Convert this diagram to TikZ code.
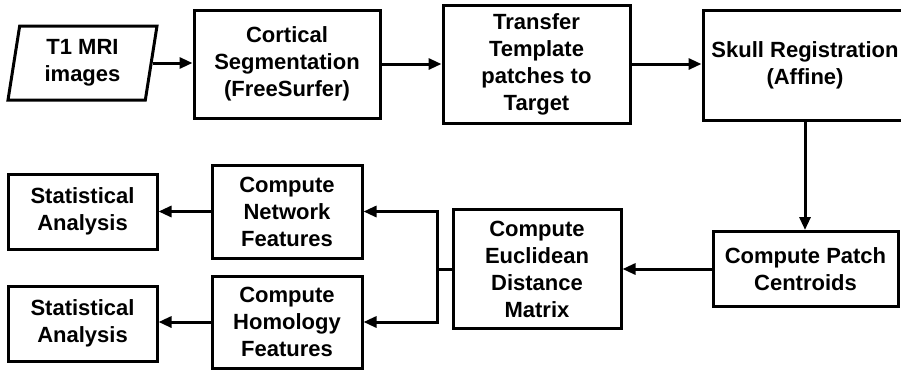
\documentclass[tikz,border=0pt]{standalone}
\usepackage{fontspec}
\setmainfont{Liberation Sans}
\usetikzlibrary{arrows.meta,shapes.geometric}
\begin{document}
\begin{tikzpicture}[x=1pt,y=-1pt,
  box/.style={draw,line width=3pt,inner sep=0pt,align=center,
    font=\fontsize{22}{27}\selectfont\bfseries},
  link/.style={line width=3pt,-{Triangle[length=13pt,width=11pt]}},
  plain/.style={line width=3pt}]
\useasboundingbox (0,0) rectangle (901,370);
% top row
\node[box,shape=trapezium,trapezium left angle=76,trapezium right angle=104,
  trapezium stretches body,minimum width=149pt,minimum height=74pt]
  (mri) at (82.5,63) {T1 MRI\\images};
\node[box,minimum width=186pt,minimum height=108pt] (cort) at (287,64)
  {Cortical\\Segmentation\\(FreeSurfer)};
\node[box,minimum width=187pt,minimum height=118pt] (trans) at (536.5,64)
  {Transfer\\Template\\patches to\\Target};
\node[box,minimum width=204pt,minimum height=110pt] (skull) at (805,65)
  {Skull Registration\\(Affine)};
% bottom row
\node[box,minimum width=185pt,minimum height=75pt] (cent) at (805.5,269)
  {Compute Patch\\Centroids};
\node[box,minimum width=168pt,minimum height=119pt] (eucl) at (537,269)
  {Compute\\Euclidean\\Distance\\Matrix};
\node[box,minimum width=150pt,minimum height=93pt] (net) at (287,211.5)
  {Compute\\Network\\Features};
\node[box,minimum width=150pt,minimum height=92pt] (hom) at (287,322)
  {Compute\\Homology\\Features};
\node[box,minimum width=149pt,minimum height=75pt] (stat1) at (82.5,211.5)
  {Statistical\\Analysis};
\node[box,minimum width=149pt,minimum height=75pt] (stat2) at (82.5,323.5)
  {Statistical\\Analysis};
\coordinate (br) at (437,269);
% connectors
\draw[link] (mri.east) -- (mri.east -| cort.west);
\draw[link] (cort.east) -- (cort.east -| trans.west);
\draw[link] (trans.east) -- (trans.east -| skull.west);
\draw[link] (skull.south) -- (skull.south |- cent.north);
\draw[link] (cent.west) -- (cent.west -| eucl.east);
\draw[plain] (eucl.west) -- (br);
\draw[link] (br) |- (net.east);
\draw[link] (br) |- (hom.east);
\draw[link] (net.west) -- (net.west -| stat1.east);
\draw[link] (hom.west) -- (hom.west -| stat2.east);
\end{tikzpicture}
\end{document}
